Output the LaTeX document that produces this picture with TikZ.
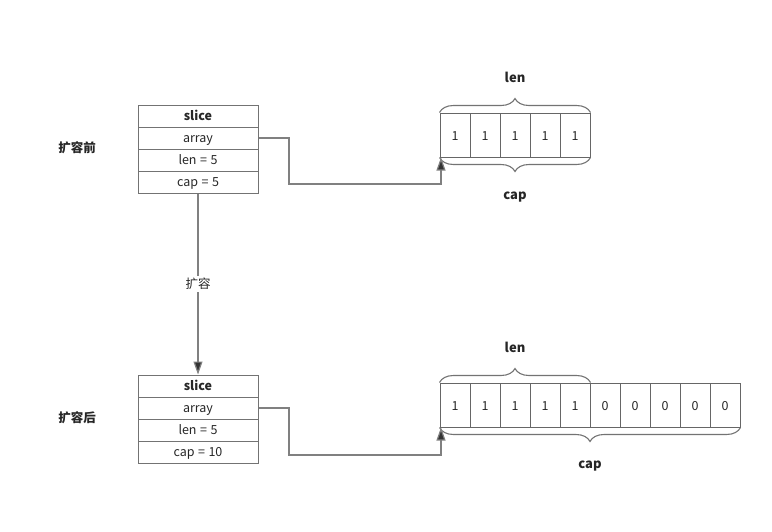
\documentclass[tikz,border=0pt]{standalone}
\usepackage{fontspec}
\setmainfont{Noto Sans CJK SC}
\usetikzlibrary{arrows.meta,decorations.pathreplacing}
\newcommand{\eqs}{\hspace{3.5pt}=\hspace{3.5pt}}
\begin{document}
\begin{tikzpicture}[x=1pt,y=-1pt,
  every node/.style={font=\fontsize{12.5}{14}\selectfont, text=black!85},
  row/.style={draw=black!55, line width=1pt, minimum width=120pt, minimum height=22pt, inner sep=0pt, text height=10.5pt, text depth=1pt},
  cell/.style={draw=black!60, line width=1pt, minimum width=30pt, minimum height=44pt, inner sep=0pt, text height=11pt, text depth=0.5pt},
  conn/.style={draw=black!50, line width=1.2pt, -{Triangle[length=13pt,width=9pt,fill=black!80]}},
  brc/.style={draw=black!55, line width=1.1pt, decorate, decoration={brace, amplitude=14pt}},
  side/.style={font=\fontsize{12.5}{14}\selectfont\bfseries},
  blab/.style={font=\fontsize{13}{15}\selectfont\bfseries}]
\useasboundingbox (0,0) rectangle (772,531);

% top slice
\node[row, font=\fontsize{12.5}{14}\selectfont\bfseries] (s1) at (198,116) {slice};
\node[row] (a1) at (198,138) {array};
\node[row] (l1) at (198,160) {len\eqs5};
\node[row] (p1) at (198,182) {cap\eqs5};
\node[side] (b1) at (77,148) {扩容前};

% bottom slice
\node[row, font=\fontsize{12.5}{14}\selectfont\bfseries] (s2) at (198,386) {slice};
\node[row] (a2) at (198,408) {array};
\node[row] (l2) at (198,430) {len\eqs5};
\node[row] (p2) at (198,452) {cap\eqs10};
\node[side] (b2) at (77,418) {扩容后};

% top array
\foreach \i in {1,...,5} {
  \node[cell] (c\i) at (425+30*\i,135) {1};
}
% bottom array
\foreach \i in {1,...,5} {
  \node[cell] (d\i) at (425+30*\i,405) {1};
}
\foreach \i in {6,...,10} {
  \node[cell] (d\i) at (425+30*\i,405) {0};
}

% braces
\draw[brc] (c1.north west) -- (c5.north east) node[midway, above=26pt, blab] (lenA) {len};
\draw[brc] (c5.south east) -- (c1.south west) node[midway, below=31pt, blab] (capA) {cap};
\draw[brc] (d1.north west) -- (d5.north east) node[midway, above=26pt, blab] (lenB) {len};
\draw[brc] (d10.south east) -- (d1.south west) node[midway, below=30pt, blab] (capB) {cap};

% connectors
\coordinate (t1) at (289,184);
\coordinate (t2) at (289,455);
\draw[conn] (a1.east) -| (t1) -| ([xshift=1.5pt]c1.south west);
\draw[conn] (a2.east) -| (t2) -| ([xshift=1.5pt]d1.south west);

\draw[conn] (p1.south) -- node[fill=white, inner sep=2pt] (ex) {扩容} (s2.north);
\end{tikzpicture}
\end{document}
